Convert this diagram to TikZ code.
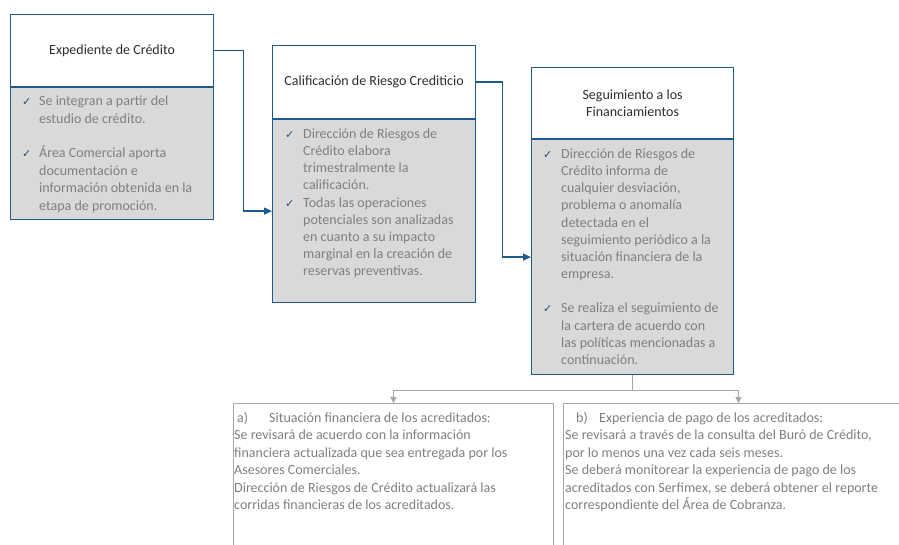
\documentclass[tikz,border=0pt]{standalone}
\usepackage{fontspec}
\setmainfont{Carlito}
\newfontfamily\symf{DejaVu Sans}
\usetikzlibrary{arrows.meta}
\definecolor{bluebd}{HTML}{1E5A8C}
\definecolor{chk}{HTML}{1F4E79}
\definecolor{bodyfill}{HTML}{D9D9D9}
\definecolor{bodytxt}{HTML}{7F7F7F}
\definecolor{headtxt}{HTML}{2E2E2E}
\definecolor{graybd}{HTML}{A6A6A6}
\newcommand{\ck}[1][17pt]{\makebox[#1][l]{\color{chk}\symf\fontsize{11}{12}\selectfont ✓}}
\tikzset{
  headbox/.style={draw=bluebd, line width=1.2pt, fill=white, anchor=north west, inner sep=0pt},
  bodybox/.style={draw=bluebd, line width=1.2pt, fill=bodyfill, anchor=north west, inner sep=0pt},
  headtext/.style={text=headtxt, font=\fontsize{14}{17}\selectfont, align=center, inner sep=0pt},
  listtext/.style={text=bodytxt, anchor=north west, inner sep=0pt, font=\fontsize{14}{17.2}\selectfont},
  paratext/.style={text=bodytxt, anchor=north west, inner sep=0pt, font=\fontsize{14}{17.5}\selectfont},
  subbox/.style={draw=graybd, line width=0.9pt, anchor=north west, inner sep=0pt},
  bluearrow/.style={draw=bluebd, line width=1.2pt, -{Triangle[length=8pt,width=7pt]}},
  grayline/.style={draw=graybd, line width=1pt},
  grayarrow/.style={draw=graybd, line width=1pt, -{Triangle[length=6pt,width=6pt]}},
}
\begin{document}
\begin{tikzpicture}[x=1pt,y=-1pt]
\useasboundingbox (0,0) rectangle (899,545);
% boxes
\node[headbox, minimum width=203pt, minimum height=72pt] (h1) at (10,14) {};
\node[bodybox, minimum width=203pt, minimum height=132pt] (b1) at (10,87) {};
\node[headbox, minimum width=203pt, minimum height=73pt] (h2) at (272,45) {};
\node[bodybox, minimum width=203pt, minimum height=183pt] (b2) at (272,119) {};
\node[headbox, minimum width=202pt, minimum height=71pt] (h3) at (531,67) {};
\node[bodybox, minimum width=202pt, minimum height=235pt] (b3) at (531,139) {};
\node[subbox, minimum width=320pt, minimum height=170pt] (s1) at (233,403) {};
\node[subbox, minimum width=350pt, minimum height=170pt] (s2) at (563,403) {};
% headers
\node[headtext] (t1) at (h1.center) {Expediente de Crédito};
\node[headtext] (t2) at (h2.center) {Calificación de Riesgo Crediticio};
\node[headtext] (t3) at (h3.center) {Seguimiento a los\\Financiamientos};
% lists
\node[listtext, font=\fontsize{14}{17.7}\selectfont] (l1) at (22,93) {\begin{tabular}{@{}l@{}l@{}}
\ck & Se integran a partir del\\
 & estudio de crédito.\\[16.5pt]
\ck & Área Comercial aporta\\
 & documentación e\\
 & información obtenida en la\\
 & etapa de promoción.
\end{tabular}};
\node[listtext] (l2) at (285,126) {\begin{tabular}{@{}l@{}l@{}}
\ck[18pt] & Dirección de Riesgos de\\
 & Crédito elabora\\
 & trimestralmente la\\
 & calificación.\\
\ck[18pt] & Todas las operaciones\\
 & potenciales son analizadas\\
 & en cuanto a su impacto\\
 & marginal en la creación de\\
 & reservas preventivas.
\end{tabular}};
\node[listtext] (l3) at (543,146) {\begin{tabular}{@{}l@{}l@{}}
\ck[18pt] & Dirección de Riesgos de\\
 & Crédito informa de\\
 & cualquier desviación,\\
 & problema o anomalía\\
 & detectada en el\\
 & seguimiento periódico a la\\
 & situación financiera de la\\
 & empresa.\\[17pt]
\ck[18pt] & Se realiza el seguimiento de\\
 & la cartera de acuerdo con\\
 & las políticas mencionadas a\\
 & continuación.
\end{tabular}};
\node[paratext] (p1) at (234,410) {\begin{tabular}{@{}l@{}}
\hspace*{3pt}\makebox[32pt][l]{a)}Situación financiera de los acreditados:\\
Se revisará de acuerdo con la información\\
financiera actualizada que sea entregada por los\\
Asesores Comerciales.\\
Dirección de Riesgos de Crédito actualizará las\\
corridas financieras de los acreditados.
\end{tabular}};
\node[paratext] (p2) at (565,410) {\begin{tabular}{@{}l@{}}
\hspace*{11pt}\makebox[23pt][l]{b)}Experiencia de pago de los acreditados:\\
Se revisará a través de la consulta del Buró de Crédito,\\
por lo menos una vez cada seis meses.\\
Se deberá monitorear la experiencia de pago de los\\
acreditados con Serfimex, se deberá obtener el reporte\\
correspondiente del Área de Cobranza.
\end{tabular}};
% connectors
\draw[bluearrow] (h1.east) -- ++(29,0) |- (b2.west);
\draw[bluearrow] (h2.east) -- ++(26,0) |- (b3.west);
\coordinate (j) at ([yshift=-15pt]b3.south);
\draw[grayline] (b3.south) -- (j);
\draw[grayarrow] (j) -| (s1.north);
\draw[grayarrow] (j) -| (s2.north);
\end{tikzpicture}
\end{document}
